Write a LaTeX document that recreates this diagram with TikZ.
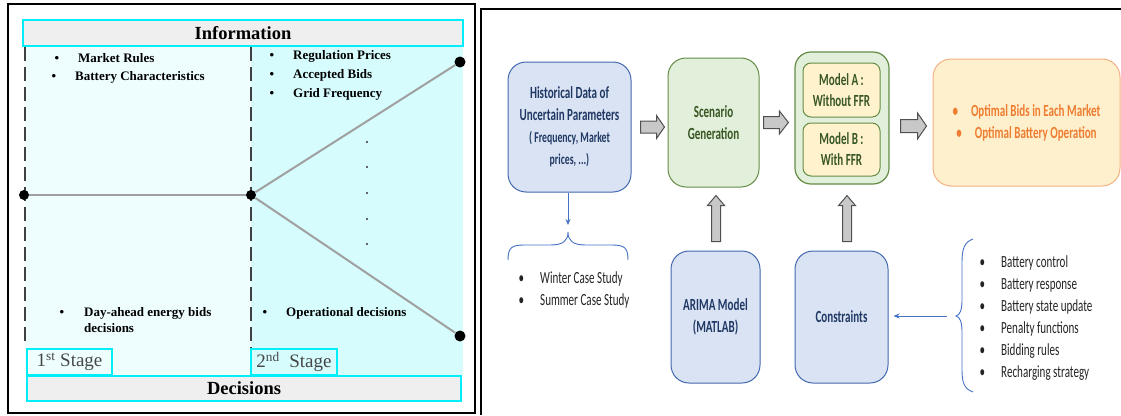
\documentclass[tikz,border=0pt]{standalone}
\usepackage{fontspec}
\setmainfont{Liberation Serif}
\newfontfamily\calfont[FakeStretch=0.65]{Carlito}
\usetikzlibrary{arrows.meta,calc}
\definecolor{cyanb}{RGB}{0,238,248}
\definecolor{lightL}{RGB}{238,254,255}
\definecolor{lightR}{RGB}{214,252,253}
\definecolor{hdr}{RGB}{239,239,239}
\definecolor{treeg}{RGB}{160,160,160}
\definecolor{bfill}{RGB}{218,227,243}
\definecolor{bdraw}{RGB}{68,104,176}
\definecolor{btext}{RGB}{31,56,100}
\definecolor{gfill}{RGB}{226,239,218}
\definecolor{gdraw}{RGB}{100,140,70}
\definecolor{gtext}{RGB}{55,86,35}
\definecolor{yfill}{RGB}{255,242,204}
\definecolor{ofill}{RGB}{255,240,205}
\definecolor{odraw}{RGB}{244,177,131}
\definecolor{otext}{RGB}{237,125,49}
\definecolor{arrfill}{RGB}{200,200,200}
\definecolor{arrdraw}{RGB}{80,80,80}
\definecolor{thinblue}{RGB}{68,114,196}
\definecolor{listtext}{RGB}{35,35,35}
\definecolor{stagetext}{RGB}{70,70,70}
\tikzset{
  treedot/.style={circle,fill=black,inner sep=0pt,minimum size=10pt},
  smalldot/.style={circle,fill=black!80,inner sep=0pt,minimum size=2.2pt},
  treeline/.style={draw=treeg,line width=2pt},
  stagediv/.style={draw=black!75,line width=1.2pt,dash pattern=on 14pt off 6pt},
  band/.style={draw=cyanb,line width=2pt,fill=hdr,inner sep=0pt},
  stagebox/.style={draw=cyanb,line width=2pt,inner sep=0pt,text=stagetext,font=\fontsize{19}{20}\selectfont},
  lt/.style={anchor=west,inner sep=0pt,font=\fontsize{13}{16}\selectfont\bfseries,align=left},
  bluebox/.style={draw=bdraw,line width=1pt,fill=bfill,rounded corners=18pt,text=btext,align=center,font=\calfont\bfseries\fontsize{17}{22}\selectfont},
  greenbox/.style={draw=gdraw,line width=1pt,fill=gfill,rounded corners=18pt,text=gtext,align=center,font=\calfont\bfseries\fontsize{17}{22}\selectfont},
  modelbox/.style={draw=gdraw,line width=1pt,fill=yfill,rounded corners=8pt,text=gtext,align=center,font=\calfont\bfseries\fontsize{17}{21}\selectfont},
  optbox/.style={draw=odraw,line width=1pt,fill=ofill,rounded corners=18pt,text=otext,align=center,font=\calfont\bfseries\fontsize{17}{22}\selectfont},
  listtxt/.style={anchor=west,inner sep=0pt,text=listtext,font=\calfont\fontsize{17}{20}\selectfont},
  blockarr/.style={fill=arrfill,draw=arrdraw,line width=1pt},
  thinarr/.style={draw=thinblue,line width=0.9pt,-{Stealth[length=6pt,width=5pt]}},
  bracepath/.style={draw=thinblue,line width=0.9pt},
}
\newcommand\harr[5]{\filldraw[blockarr] let \p1=(#1),\p2=(#2) in
  (\x1,\y1+#3)--(\x2-#5,\y1+#3)--(\x2-#5,\y1+#4)--(\x2,\y1)--(\x2-#5,\y1-#4)--(\x2-#5,\y1-#3)--(\x1,\y1-#3)--cycle;}
\newcommand\uarr[5]{\filldraw[blockarr] let \p1=(#1),\p2=(#2) in
  (\x1-#3,\y1)--(\x1-#3,\y2-#5)--(\x1-#4,\y2-#5)--(\x1,\y2)--(\x1+#4,\y2-#5)--(\x1+#3,\y2-#5)--(\x1+#3,\y1)--cycle;}
\begin{document}
\begin{tikzpicture}[x=1pt,y=-1pt]
\useasboundingbox (0,0) rectangle (1121,415);
% ---------------- left panel ----------------
\fill[lightL] (25,45) rectangle (251,375);
\fill[lightR] (251,45) rectangle (463,375);
\draw[line width=2pt] (8,4) rectangle (475,413);
\draw[stagediv] (25,47) -- (25,347);
\draw[stagediv] (251,47) -- (251,375);
\node[band,minimum width=440pt,minimum height=26pt] (info) at (243,33) {\fontsize{18.5}{20}\selectfont\bfseries Information};
\node[band,minimum width=434pt,minimum height=25pt] (dec) at (244,388) {\fontsize{18.5}{20}\selectfont\bfseries Decisions};
\node[stagebox,fill=lightL,minimum width=85pt,minimum height=26pt] (st1) at (69.5,362) {1\textsuperscript{st} Stage};
\node[stagebox,fill=lightR,minimum width=86pt,minimum height=26pt] (st2) at (294,362) {2\textsuperscript{nd}\ \ Stage};
% tree
\node[treedot] (n1) at (24,195) {};
\node[treedot] (n2) at (251,195) {};
\node[treedot,minimum size=11pt] (n3) at (460,62) {};
\node[treedot,minimum size=11pt] (n4) at (460,336) {};
\draw[treeline] (n1) -- (n2);
\draw[treeline] (n2) -- (n3);
\draw[treeline] (n2) -- (n4);
\foreach \yy [count=\k] in {142,167,193,219,244} \node[smalldot] (dd\k) at (367,\yy) {};
% texts
\node[lt] (mr) at (54.5,58) {\makebox[23.5pt][l]{\textbullet}Market Rules};
\node[lt] (bc) at (51.5,77) {\makebox[23.5pt][l]{\textbullet}Battery Characteristics};
\node[lt] (rp) at (269.5,56) {\makebox[23.5pt][l]{\textbullet}Regulation Prices};
\node[lt] (ab) at (269.5,75) {\makebox[23.5pt][l]{\textbullet}Accepted Bids};
\node[lt] (gf) at (269.5,94) {\makebox[23.5pt][l]{\textbullet}Grid Frequency};
\node[lt] (da) at (59.5,320) {\makebox[24.5pt][l]{\textbullet}Day-ahead energy bids\\\hspace*{24.5pt}decisions};
\node[lt] (od) at (262.5,313) {\makebox[23.5pt][l]{\textbullet}Operational decisions};
% ---------------- right panel ----------------
\draw[line width=2pt] (481,415) -- (481,9) -- (1121,9);
\node[bluebox,minimum width=123pt,minimum height=130pt] (hist) at (569.5,127)
  {Historical Data of\\Uncertain Parameters\\{\fontsize{15}{22}\selectfont ( Frequency, Market}\\{\fontsize{15}{22}\selectfont prices, ...)}};
\node[greenbox,minimum width=91pt,minimum height=129pt] (scen) at (713.5,122.5) {Scenario\\Generation};
\node[draw=gdraw,line width=1.2pt,fill=gfill,rounded corners=16pt,minimum width=94pt,minimum height=132pt] (models) at (842,118) {};
\node[modelbox,minimum width=77pt,minimum height=54pt] (ma) at (841.5,90) {Model A :\\Without FFR};
\node[modelbox,minimum width=77pt,minimum height=53pt] (mb) at (841.5,149.5) {Model B :\\With FFR};
\node[optbox,minimum width=187pt,minimum height=127pt] (opt) at (1026.5,122.5)
  {\textbullet\hspace{13pt}Optimal Bids in Each Market\\\textbullet\hspace{13pt}Optimal Battery Operation};
\node[bluebox,minimum width=89pt,minimum height=132pt] (arima) at (715.5,317) {ARIMA Model\\(MATLAB)};
\node[bluebox,minimum width=93pt,minimum height=132pt] (cons) at (841.5,317) {Constraints};
% block arrows
\harr{$(hist.east)+(9,0)$}{$(scen.west)+(-3,0)$}{6pt}{11.5pt}{8pt}
\harr{$(scen.east)+(4,0)$}{$(models.west)+(-6,0)$}{6pt}{11.5pt}{9pt}
\harr{$(models.east)+(11,8)$}{$(opt.west)+(-6,0)$}{6.5pt}{13pt}{9pt}
\uarr{$(arima.north)+(0.5,-9)$}{$(scen.south)+(0,8)$}{4.5pt}{8.5pt}{10pt}
\uarr{$(cons.north)+(5.5,-9)$}{$(models.south)+(0,11)$}{4.5pt}{8.5pt}{10pt}
% braces and thin arrows
\coordinate (hbtip) at (568,232);
\coordinate (hbarrow) at (568,225);
\draw[thinarr] (hist.south -| hbtip) -- (hbarrow);
\draw[bracepath] (508,260) .. controls (508,247) and (512,245) .. (525,245) -- (550,245)
  .. controls (563,245) and (568,241) .. (hbtip)
  .. controls (568,241) and (573,245) .. (586,245) -- (611,245)
  .. controls (624,245) and (628,247) .. (628,260);
\coordinate (rbtip) at (956,316);
\coordinate (rbfrom) at (947,316);
\draw[bracepath] (973,239) .. controls (964,242) and (962,250) .. (962,262) -- (962,300)
  .. controls (962,310) and (960,315) .. (rbtip)
  .. controls (960,317) and (962,322) .. (962,332) -- (962,370)
  .. controls (962,382) and (964,389) .. (973,392);
\draw[thinarr,shorten >=5pt] (rbfrom) -- (cons.east |- rbfrom);
% lists
\node[listtxt] (w1) at (518.5,279) {\makebox[21.5pt][l]{\textbullet}Winter Case Study};
\node[listtxt] (w2) at (518.5,301) {\makebox[21.5pt][l]{\textbullet}Summer Case Study};
\foreach \t [count=\i] in {Battery control,Battery response,Battery state update,Penalty functions,Bidding rules,Recharging strategy}
  \node[listtxt] (c\i) at (979.5,{241+22*\i}) {\makebox[21.5pt][l]{\textbullet}\t};
\end{tikzpicture}
\end{document}
